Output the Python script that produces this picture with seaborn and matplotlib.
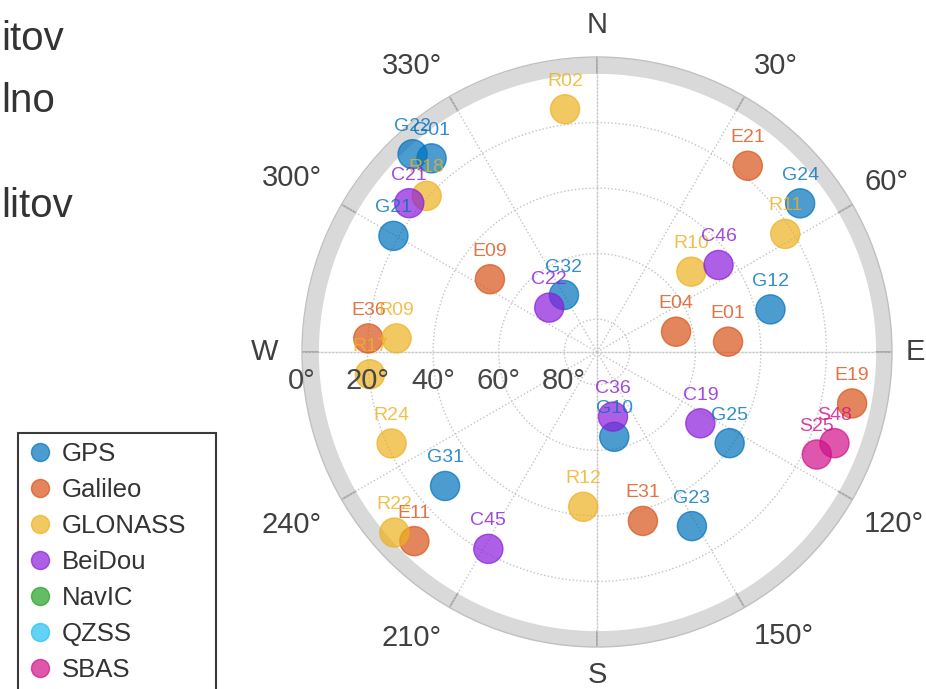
import numpy as np
import pandas as pd
import matplotlib
matplotlib.use("Agg")
import matplotlib.pyplot as plt
from matplotlib.lines import Line2D
import seaborn as sns

sns.set_theme(style="white")
plt.rcParams["font.family"] = ["Liberation Sans", "DejaVu Sans"]

# constellations and their colours
systems = ["GPS", "Galileo", "GLONASS", "BeiDou", "NavIC", "QZSS", "SBAS"]
system_colors = ["#0072BD", "#D95319", "#EDB120", "#8A1DDB", "#22A222", "#22BFF1", "#D0108A"]

# satellites in view: id, constellation, azimuth (deg from N, clockwise), elevation (deg)
sat_ids = ["G22", "G01", "G21", "G32", "G24", "G12", "G31", "G10", "G25", "G23",
           "E09", "E36", "E21", "E04", "E01", "E11", "E19", "E31",
           "R02", "R18", "R09", "R11", "R10", "R17", "R24", "R22", "R12",
           "C21", "C22", "C46", "C45", "C36", "C19",
           "S48", "S25"]
sat_system = (["GPS"] * 10 + ["Galileo"] * 8 + ["GLONASS"] * 9
              + ["BeiDou"] * 6 + ["SBAS"] * 2)
sat_azimuth = [317.0, 319.5, 299.7, 329.9, 53.8, 76.2, 228.6, 168.5, 124.5, 151.4,
               304.2, 273.4, 39.0, 75.6, 85.5, 224.0, 101.4, 164.8,
               352.5, 312.5, 273.9, 57.9, 49.6, 264.4, 246.0, 228.3, 185.1,
               308.4, 312.9, 54.4, 208.9, 166.1, 124.6,
               111.0, 115.0]
sat_elevation = [7.5, 12.3, 18.5, 69.9, 13.2, 35.5, 28.2, 63.6, 40.9, 29.5,
                 50.5, 20.1, 16.9, 65.1, 49.9, 9.8, 10.6, 36.6,
                 15.3, 19.5, 28.7, 22.2, 52.2, 20.4, 21.4, 7.2, 42.6,
                 16.9, 70.1, 44.4, 21.4, 69.7, 51.7,
                 12.4, 16.0]

# axis annotation
elev_ticks = [0, 20, 40, 60, 80]
elev_mask = 5
az_tick_labels = ["N", "30°", "60°", "E", "120°", "150°", "S", "210°", "240°", "W", "300°", "330°"]
az_label_angle = [0, 32, 59.6, 90, 120.2, 146.7, 180, 212.9, 240.4, 270, 299.7, 327.1]
az_label_radius = [99.8, 102.8, 102.5, 97.0, 104.6, 103.7, 98.5, 104.0, 107.1, 101.3, 107.1, 104.0]

# left-hand text fragments
side_text = ["itov", "lno", "litov"]
side_text_baseline_px = [50, 112, 217]

df = pd.DataFrame({
    "id": sat_ids,
    "system": sat_system,
    "theta": np.deg2rad(sat_azimuth),
    "r": 90.0 - np.array(sat_elevation),
})
palette = dict(zip(systems, system_colors))

W, H = 926, 689
fig = plt.figure(figsize=(W / 100, H / 100), dpi=100)
cx, cy, R = 597, 352, 295
ax = fig.add_axes([(cx - R) / W, 1 - (cy + R) / H, 2 * R / W, 2 * R / H], projection="polar")
ax.set_theta_zero_location("N")
ax.set_theta_direction(-1)
ax.set_axisbelow("line")

# elevation mask band
ring_t = np.linspace(0, 2 * np.pi, 721)
ax.fill_between(ring_t, 90 - elev_mask, 90, color="#d9d9d9", lw=0, zorder=0.3)
for a in np.arange(0, 360, 30):
    ax.plot([np.deg2rad(a)] * 2, [90 - elev_mask, 90], color="#a6a6a6", lw=1.3, zorder=0.4)
for a in [0, 90, 180, 270]:
    ax.plot([np.deg2rad(a)] * 2, [0, 90 - elev_mask], color="#e2e2e2", lw=1.0, zorder=0.4)

sns.scatterplot(data=df, x="theta", y="r", hue="system", hue_order=systems,
                palette=palette, s=440, alpha=0.7, edgecolor="face", linewidth=1.0,
                legend=False, ax=ax, zorder=3)

for _, row in df.iterrows():
    ax.annotate(row["id"], xy=(row["theta"], row["r"]), xytext=(0, 28),
                textcoords="offset pixels", ha="center", va="center",
                fontsize=14, color=palette[row["system"]], alpha=0.8, zorder=4)

ax.set_ylim(0, 90)
ax.set_xticks(np.deg2rad(np.arange(0, 360, 30)))
ax.set_xticklabels([])
ax.set_yticks([90 - e for e in elev_ticks[1:]])
ax.set_yticklabels([])
ax.set_xlabel("")
ax.set_ylabel("")
ax.grid(True, color="#c4c4c4", linestyle=(0, (1, 1.6)), linewidth=1.0)
ax.spines["polar"].set_color("#c0c0c0")
ax.spines["polar"].set_linewidth(1.0)

for e in elev_ticks:
    ax.annotate(f"{e}°", xy=(np.deg2rad(270), 90 - e), xytext=(0, -29),
                textcoords="offset pixels", ha="center", va="center",
                fontsize=21, color="#474747", zorder=5, annotation_clip=False)

for lab, ang, rad in zip(az_tick_labels, az_label_angle, az_label_radius):
    ax.text(np.deg2rad(ang), rad, lab, ha="center", va="center", fontsize=21,
            color="#404040", clip_on=False)

for txt, yb in zip(side_text, side_text_baseline_px):
    fig.text(1 / W, 1 - yb / H, txt, fontsize=29, va="baseline", ha="left", color="#333333")

handles = [Line2D([0], [0], marker="o", ls="", markersize=13, markerfacecolor=c,
                  markeredgecolor=c, alpha=0.7) for c in system_colors]
leg = fig.legend(handles, systems, loc="upper left",
                 bbox_to_anchor=(18 / W, 0, 198 / W, 1 - 433 / H), mode="expand",
                 fontsize=18.5, frameon=True, fancybox=False, edgecolor="#3a3a3a",
                 framealpha=1, borderpad=0.35, handlelength=1.0, handletextpad=0.36,
                 labelspacing=0.47, borderaxespad=0)
leg.get_frame().set_linewidth(1.5)
for t in leg.get_texts():
    t.set_color("#333333")

fig.savefig("out.png", dpi=100)
